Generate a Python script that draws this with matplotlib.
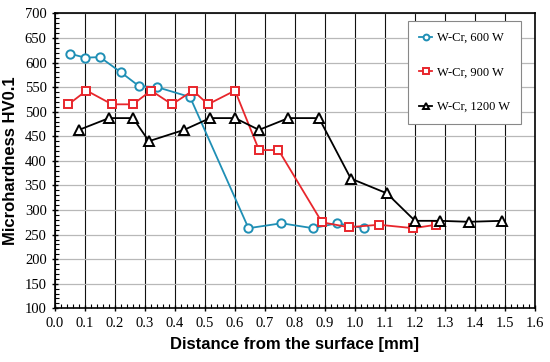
import matplotlib
matplotlib.use("Agg")
import matplotlib.pyplot as plt
from matplotlib.ticker import MultipleLocator

x600 = [0.05, 0.10, 0.15, 0.22, 0.28, 0.34, 0.45, 0.645, 0.755, 0.86, 0.94, 1.03]
y600 = [618, 610, 611, 580, 552, 550, 530, 263, 273, 263, 273, 263]

x900 = [0.045, 0.105, 0.19, 0.26, 0.32, 0.39, 0.46, 0.51, 0.60, 0.68, 0.745, 0.89, 0.98, 1.08, 1.195, 1.27]
y900 = [515, 543, 515, 515, 543, 515, 543, 515, 543, 422, 422, 275, 265, 270, 263, 270]

x1200 = [0.08, 0.18, 0.26, 0.313, 0.43, 0.517, 0.60, 0.68, 0.778, 0.88, 0.986, 1.106, 1.20, 1.283, 1.38, 1.49]
y1200 = [463, 487, 487, 440, 463, 487, 487, 463, 487, 487, 364, 334, 278, 278, 276, 278]

labels = ["W-Cr, 600 W", "W-Cr, 900 W", "W-Cr, 1200 W"]
xticks = [round(0.1 * i, 1) for i in range(17)]
yticks = list(range(100, 701, 50))

fig = plt.figure(figsize=(5.5, 3.62), dpi=100)
ax = fig.add_axes([0.1, 0.1483, 0.8727, 0.8147])

ax.set_xlim(0, 1.6)
ax.set_ylim(100, 700)
ax.set_xticks(xticks)
ax.set_yticks(yticks)
ax.xaxis.set_minor_locator(MultipleLocator(0.02))
ax.yaxis.set_minor_locator(MultipleLocator(10))
ax.grid(True, axis="x", which="major", color="#111111", linewidth=0.8)
ax.grid(True, axis="y", which="major", color="#b8b8b8", linewidth=0.9)
ax.set_axisbelow(True)

ax.tick_params(axis="both", which="major", direction="inout", length=5, width=1.0, labelsize=10.5, colors="black")
ax.tick_params(axis="both", which="minor", direction="in", length=3, width=0.8)
ax.tick_params(top=False, right=False, which="both")
ax.set_xticklabels([f"{v:.1f}" for v in xticks], family="Liberation Serif")
ax.set_yticklabels([str(v) for v in yticks], family="Liberation Serif")

for s in ax.spines.values():
    s.set_color("black")
    s.set_linewidth(1.2)

ax.plot(x600, y600, color="#1f8fb5", lw=1.3, marker="o", ms=6, mfc="white", mec="#1f8fb5", mew=1.4, label=labels[0])
ax.plot(x900, y900, color="#e8262c", lw=1.3, marker="s", ms=6, mfc="white", mec="#e8262c", mew=1.4, label=labels[1])
ax.plot(x1200, y1200, color="black", lw=1.3, marker="^", ms=7, mfc="white", mec="black", mew=1.4, label=labels[2])

ax.set_xlabel("Distance from the surface [mm]", family="Liberation Sans", fontweight="bold", fontsize=12, labelpad=5)
ax.set_ylabel("Microhardness HV0.1", family="Liberation Sans", fontweight="bold", fontsize=12, labelpad=5)

leg = ax.legend(loc="upper right", bbox_to_anchor=(0.971, 0.975), prop={"family": "Liberation Serif", "size": 9},
                fancybox=False, framealpha=1, edgecolor="#888888", handlelength=1.0, labelspacing=1.8,
                borderpad=0.9, handletextpad=0.4, borderaxespad=0, markerscale=0.7)
leg.get_frame().set_linewidth(0.8)

fig.savefig("out.png", dpi=100)
